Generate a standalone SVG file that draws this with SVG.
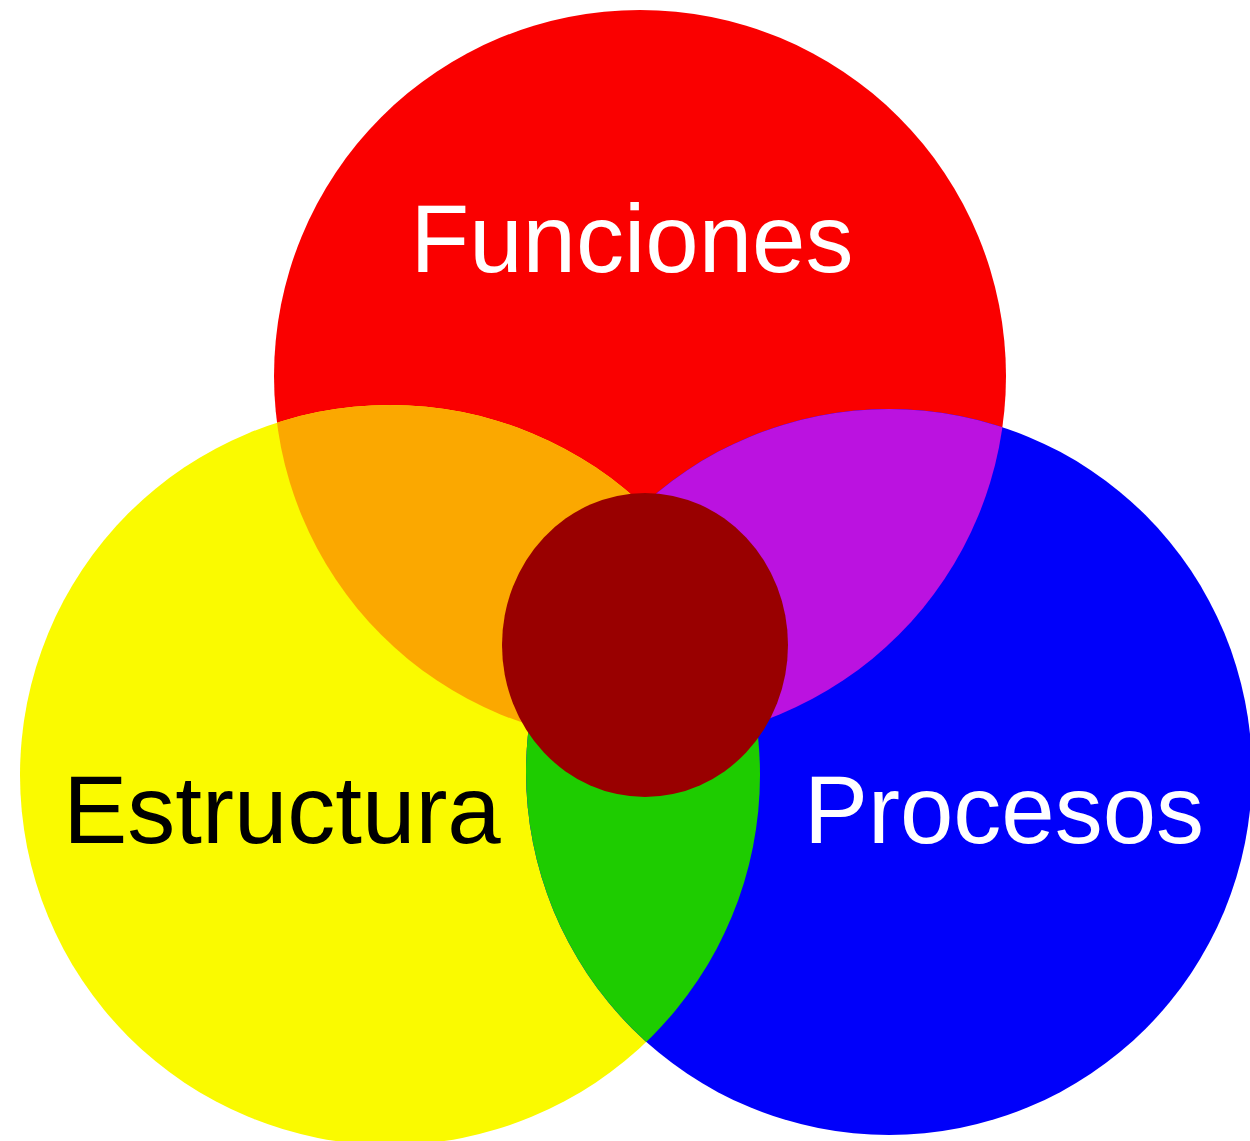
<svg xmlns="http://www.w3.org/2000/svg" width="1250" height="1141" viewBox="0 0 1250 1141">
  <style>
    .lbl { font-family: "Liberation Sans", Arial, sans-serif; font-size: 96px; text-anchor: middle; }
  </style>
  <defs>
    <clipPath id="clipRed"><circle cx="640" cy="376" r="366"/></clipPath>
    <clipPath id="clipBlue"><circle cx="889" cy="772" r="363"/></clipPath>
  </defs>
  <rect width="1250" height="1141" fill="#ffffff"/>
  <g id="funciones">
    <circle cx="640" cy="376" r="366" fill="#fa0000"/>
  </g>
  <g id="estructura">
    <circle cx="390" cy="775" r="370" fill="#fafa00"/>
  </g>
  <g id="procesos">
    <circle cx="889" cy="772" r="363" fill="#0000fa"/>
  </g>
  <g id="overlaps">
    <circle cx="390" cy="775" r="370" fill="#fba800" clip-path="url(#clipRed)"/>
    <circle cx="889" cy="772" r="363" fill="#bb12e0" clip-path="url(#clipRed)"/>
    <circle cx="390" cy="775" r="370" fill="#1ecc00" clip-path="url(#clipBlue)"/>
  </g>
  <g id="centro">
    <ellipse cx="645" cy="645" rx="143" ry="152" fill="#990000"/>
  </g>
  <g id="labels">
    <text class="lbl" x="632" y="272" fill="#ffffff">Funciones</text>
    <text class="lbl" x="282" y="843" fill="#000000">Estructura</text>
    <text class="lbl" x="1004" y="843" fill="#ffffff">Procesos</text>
  </g>
</svg>
